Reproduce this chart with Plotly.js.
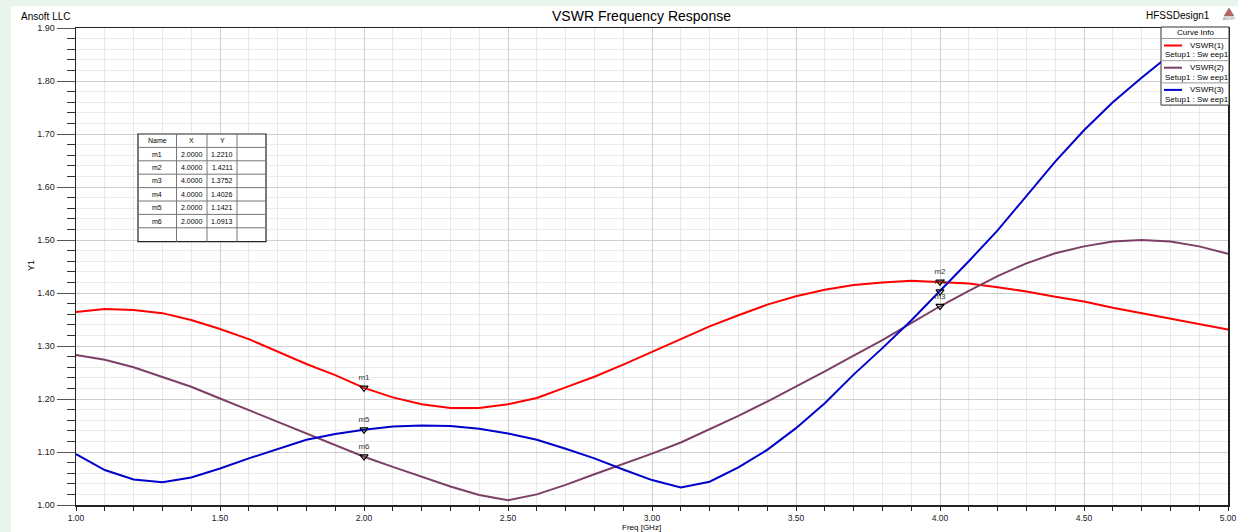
<!DOCTYPE html>
<html>
<head>
<meta charset="utf-8">
<script src="https://cdn.plot.ly/plotly-3.0.1.min.js"></script>
<style>
html,body{margin:0;padding:0;background:#e9f5ec;width:1238px;height:532px;overflow:hidden;}
#chart{position:absolute;left:11px;top:6px;width:1227px;height:526px;}
</style>
</head>
<body>
<div id="chart"></div>
<script>
// ---- data ----
const freq = [1.0,1.1,1.2,1.3,1.4,1.5,1.6,1.7,1.8,1.9,2.0,2.1,2.2,2.3,2.4,2.5,2.6,2.7,2.8,2.9,3.0,3.1,3.2,3.3,3.4,3.5,3.6,3.7,3.8,3.9,4.0,4.1,4.2,4.3,4.4,4.5,4.6,4.7,4.8,4.9,5.0];
const vswr1 = [1.364,1.370,1.368,1.362,1.349,1.332,1.313,1.289,1.266,1.245,1.221,1.203,1.190,1.183,1.183,1.190,1.202,1.222,1.242,1.265,1.289,1.313,1.337,1.358,1.378,1.394,1.406,1.415,1.420,1.423,1.421,1.418,1.411,1.403,1.393,1.384,1.372,1.362,1.351,1.341,1.331];
const vswr2 = [1.283,1.274,1.260,1.242,1.223,1.201,1.179,1.157,1.135,1.113,1.091,1.072,1.053,1.035,1.019,1.009,1.020,1.038,1.058,1.077,1.097,1.118,1.143,1.168,1.195,1.223,1.252,1.282,1.311,1.343,1.375,1.404,1.432,1.456,1.475,1.488,1.497,1.500,1.497,1.488,1.474];
const vswr3 = [1.096,1.066,1.048,1.043,1.052,1.069,1.088,1.106,1.123,1.134,1.142,1.148,1.150,1.149,1.144,1.135,1.123,1.106,1.088,1.067,1.047,1.033,1.044,1.071,1.104,1.145,1.192,1.246,1.296,1.348,1.403,1.460,1.518,1.584,1.648,1.707,1.760,1.806,1.850,1.890,1.930];
const seriesNames = ["VSWR(1)","VSWR(2)","VSWR(3)"];
const seriesSub = ["Setup1 : Sw eep1","Setup1 : Sw eep1","Setup1 : Sw eep1"];
const seriesColors = ["#ff0000","#7d3f66","#0000cc"];

const markerNames = ["m1","m2","m3","m4","m5","m6"];
const markerX = [2.0,4.0,4.0,4.0,2.0,2.0];
const markerY = [1.2210,1.4211,1.3752,1.4026,1.1421,1.0913];
const markerXText = ["2.0000","4.0000","4.0000","4.0000","2.0000","2.0000"];
const markerYText = ["1.2210","1.4211","1.3752","1.4026","1.1421","1.0913"];

// ---- layout helpers (absolute page pixels -> paper coords) ----
const L=76, R=1228, T=28, B=505;
const px = X => (X-L)/(R-L);
const py = Y => (B-Y)/(B-T);
const FONT = "Liberation Sans, Arial, sans-serif";

const traces = [vswr1,vswr2,vswr3].map((ys,i)=>({
  x: freq, y: ys, type:'scatter', mode:'lines', name: seriesNames[i],
  line:{color:seriesColors[i], width:2}, showlegend:false, hoverinfo:'x+y'
}));
traces.push({
  x: markerX, y: markerY, type:'scatter', mode:'markers+text', text: markerNames,
  textposition:'top center', textfont:{family:FONT,size:8,color:'#333'},
  marker:{symbol:'triangle-down-open', size:7, color:'#000', line:{width:1.2,color:'#000'}},
  showlegend:false, cliponaxis:false
});

const shapes = [];
const annotations = [];

// header texts
annotations.push({xref:'paper',yref:'paper',x:px(19),y:py(17),xanchor:'left',yanchor:'middle',text:'Ansoft LLC',showarrow:false,font:{family:FONT,size:10,color:'#000'}});
annotations.push({xref:'paper',yref:'paper',x:px(641),y:py(16),xanchor:'center',yanchor:'middle',text:'VSWR Frequency Response',showarrow:false,font:{family:FONT,size:14,color:'#000'}});
annotations.push({xref:'paper',yref:'paper',x:px(1212),y:py(15),xanchor:'right',yanchor:'middle',text:'HFSSDesign1',showarrow:false,font:{family:FONT,size:10,color:'#000'}});
annotations.push({xref:'paper',yref:'paper',x:px(1229),y:py(19),xanchor:'center',yanchor:'middle',text:'ANSOFT',showarrow:false,font:{family:FONT,size:3,color:'#777'}});
shapes.push({type:'path',xref:'paper',yref:'paper',layer:'above',
  path:`M ${px(1229)} ${py(8)} L ${px(1224)} ${py(16)} L ${px(1234)} ${py(16)} Z`,
  fillcolor:'#c06060',line:{color:'#808080',width:0.6}});

// axis titles
annotations.push({xref:'paper',yref:'paper',x:px(31),y:py(266),xanchor:'center',yanchor:'middle',text:'Y1',textangle:-90,showarrow:false,font:{family:FONT,size:9,color:'#000'}});
annotations.push({xref:'paper',yref:'paper',x:px(641),y:py(527),xanchor:'center',yanchor:'middle',text:'Freq [GHz]',showarrow:false,font:{family:FONT,size:8,color:'#000'}});

// legend box (Curve Info)
const lgL=1161, lgR=1229, lgT=27, lgHead=38.5, lgRow=22.2;
shapes.push({type:'rect',xref:'paper',yref:'paper',layer:'above',x0:px(lgL),x1:px(lgR),y0:py(lgT),y1:py(lgHead+3*lgRow),fillcolor:'#ffffff',line:{color:'#333',width:1}});
shapes.push({type:'line',xref:'paper',yref:'paper',layer:'above',x0:px(lgL),x1:px(lgR),y0:py(lgHead),y1:py(lgHead),line:{color:'#999',width:1}});
annotations.push({xref:'paper',yref:'paper',x:px((lgL+lgR)/2),y:py(33),xanchor:'center',yanchor:'middle',text:'Curve Info',showarrow:false,font:{family:FONT,size:8,color:'#000'}});
seriesNames.forEach((n,i)=>{
  const top = lgHead + i*lgRow;
  if(i>0) shapes.push({type:'line',xref:'paper',yref:'paper',layer:'above',x0:px(lgL),x1:px(lgR),y0:py(top),y1:py(top),line:{color:'#999',width:1}});
  shapes.push({type:'line',xref:'paper',yref:'paper',layer:'above',x0:px(1164),x1:px(1182),y0:py(top+7),y1:py(top+7),line:{color:seriesColors[i],width:2}});
  annotations.push({xref:'paper',yref:'paper',x:px(1188),y:py(top+7),xanchor:'left',yanchor:'middle',text:n,showarrow:false,font:{family:FONT,size:8,color:'#000'}});
  annotations.push({xref:'paper',yref:'paper',x:px(1163),y:py(top+16.5),xanchor:'left',yanchor:'middle',text:seriesSub[i],showarrow:false,font:{family:FONT,size:8,color:'#000'}});
});

// marker table
const tbT=134, rowH=13.4;
const cols=[138,176.5,207,237,266];
const nRows = markerNames.length + 2;
const tbB = tbT + nRows*rowH + 0.5;
shapes.push({type:'rect',xref:'paper',yref:'paper',layer:'above',x0:px(cols[0]),x1:px(cols[4]),y0:py(tbT),y1:py(tbB),fillcolor:'#ffffff',line:{color:'#222',width:1.2}});
for(let r=1;r<nRows;r++){
  const yy = tbT + r*rowH;
  shapes.push({type:'line',xref:'paper',yref:'paper',layer:'above',x0:px(cols[0]),x1:px(cols[4]),y0:py(yy),y1:py(yy),line:{color:'#777',width:1}});
}
for(let c=1;c<4;c++){
  shapes.push({type:'line',xref:'paper',yref:'paper',layer:'above',x0:px(cols[c]),x1:px(cols[c]),y0:py(tbT),y1:py(tbB),line:{color:'#777',width:1}});
}
const header=['Name','X','Y'];
const tfont={family:FONT,size:7,color:'#000'};
header.forEach((h,c)=>{
  annotations.push({xref:'paper',yref:'paper',x:px((cols[c]+cols[c+1])/2),y:py(tbT+rowH/2),xanchor:'center',yanchor:'middle',text:h,showarrow:false,font:tfont});
});
markerNames.forEach((m,r)=>{
  const yc = tbT + (r+1)*rowH + rowH/2;
  annotations.push({xref:'paper',yref:'paper',x:px((cols[0]+cols[1])/2),y:py(yc),xanchor:'center',yanchor:'middle',text:m,showarrow:false,font:tfont});
  annotations.push({xref:'paper',yref:'paper',x:px((cols[1]+cols[2])/2),y:py(yc),xanchor:'center',yanchor:'middle',text:markerXText[r],showarrow:false,font:tfont});
  annotations.push({xref:'paper',yref:'paper',x:px((cols[2]+cols[3])/2),y:py(yc),xanchor:'center',yanchor:'middle',text:markerYText[r],showarrow:false,font:tfont});
});

const layout = {
  width:1227, height:526,
  margin:{l:65, r:10, t:22, b:27, pad:0},
  paper_bgcolor:'#ffffff', plot_bgcolor:'#ffffff',
  font:{family:FONT, size:9, color:'#000'},
  showlegend:false,
  xaxis:{
    range:[1.0,5.0], tick0:1.0, dtick:0.5, tickformat:'.2f',
    ticks:'outside', ticklen:4, tickcolor:'#222', tickwidth:1,
    showgrid:true, gridcolor:'#cfcfcf', gridwidth:1,
    minor:{dtick:0.1, tick0:1.0, ticks:'outside', ticklen:4, tickcolor:'#222', showgrid:true, gridcolor:'#e8e8e8', gridwidth:1},
    showline:true, linecolor:'#222', linewidth:1.5, mirror:true,
    zeroline:false, tickfont:{family:FONT,size:8.5,color:'#222'}, fixedrange:true
  },
  yaxis:{
    range:[1.0,1.9], tick0:1.0, dtick:0.1, tickformat:'.2f',
    ticks:'outside', ticklen:18, tickcolor:'#555', tickwidth:1,
    showgrid:true, gridcolor:'#cfcfcf', gridwidth:1,
    minor:{dtick:0.02, tick0:1.0, ticks:'outside', ticklen:8, tickcolor:'#333', showgrid:true, gridcolor:'#ececec', gridwidth:1},
    showline:true, linecolor:'#222', linewidth:1.5, mirror:true,
    zeroline:false, tickfont:{family:FONT,size:9,color:'#222'}, fixedrange:true
  },
  shapes: shapes,
  annotations: annotations
};

Plotly.newPlot('chart', traces, layout, {displayModeBar:false, staticPlot:true});
</script>
</body>
</html>
